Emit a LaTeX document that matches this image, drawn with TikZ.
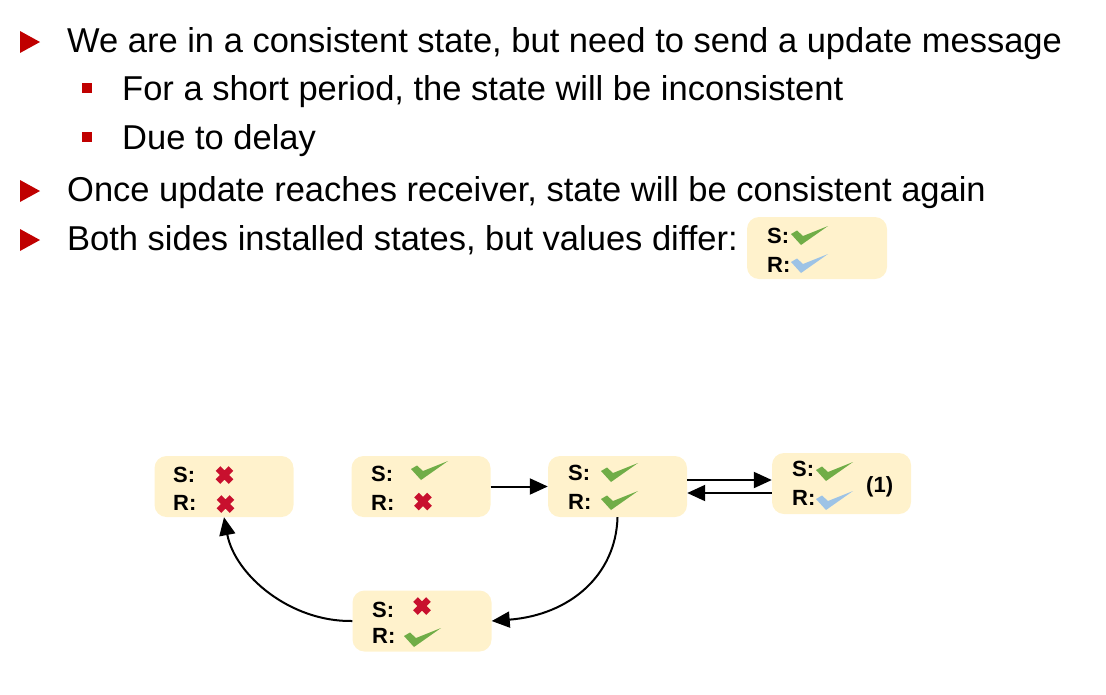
\documentclass[tikz,border=0pt]{standalone}
\usepackage{fontspec}
\setmainfont{Liberation Sans}
\usetikzlibrary{arrows.meta,calc}
\definecolor{boxfill}{HTML}{FFF2CC}
\definecolor{ckgreen}{HTML}{70AD47}
\definecolor{ckblue}{HTML}{9DC3E6}
\definecolor{xred}{HTML}{C8102E}
\definecolor{bulred}{HTML}{C00000}
\newcommand\mycheck[3]{\begin{scope}[shift={(#1,#2)}]\fill[#3] (0,8)--(6,4.5)--(12,10)--(37,0)--(10,19)--cycle;\end{scope}}
\newcommand\mycross[2]{\begin{scope}[shift={(#1,#2)}]\draw[xred,line width=6.5pt] (-6.5,-6.5)--(6.5,6.5) (6.5,-6.5)--(-6.5,6.5);\end{scope}}
\tikzset{
  statebox/.style={draw=none,fill=boxfill,rounded corners=12pt,minimum width=139pt,minimum height=61pt,inner sep=0pt},
  lbl/.style={anchor=base west,inner sep=0pt,font=\fontsize{22}{24}\selectfont\bfseries},
  bodytext/.style={anchor=base west,inner sep=0pt,font=\fontsize{34.5}{40}\selectfont},
  arr/.style={line width=2pt,-{Triangle[length=18pt,width=16pt]}},
}
\begin{document}
\begin{tikzpicture}[x=1pt,y=-1pt]
\useasboundingbox (0,0) rectangle (1106,694);
% bullets
\fill[bulred] (20,31)--(20,53)--(40,42)--cycle;
\fill[bulred] (82,83) rectangle (92,93);
\fill[bulred] (82,132) rectangle (92,142);
\fill[bulred] (20,180)--(20,202)--(40,191)--cycle;
\fill[bulred] (20,229)--(20,251)--(40,240)--cycle;
\node[bodytext] (t1) at (67,52) {We are in a consistent state, but need to send a update message};
\node[bodytext] (t2) at (122,100) {For a short period, the state will be inconsistent};
\node[bodytext] (t3) at (122,149) {Due to delay};
\node[bodytext] (t4) at (67,201) {Once update reaches receiver, state will be consistent again};
\node[bodytext] (t5) at (67,250) {Both sides installed states, but values differ:};
% legend
\node[statebox,minimum width=140pt,minimum height=62pt] (L) at (817,248) {};
\node[lbl] (Ls) at (767,243) {S:};
\node[lbl] (Lr) at (767,272) {R:};
\mycheck{791}{226}{ckgreen}
\mycheck{791}{254}{ckblue}
% state boxes
\node[statebox] (A) at (224,486.5) {};
\node[statebox] (B) at (421,486.5) {};
\node[statebox] (C) at (617.5,486.5) {};
\node[statebox] (D) at (841.5,483.5) {};
\node[statebox] (E) at (422,621) {};
% A
\node[lbl] (As) at (173,482) {S:};
\node[lbl] (Ar) at (173,510) {R:};
\mycross{224.5}{475}
\mycross{225.5}{504}
% B
\node[lbl] (Bs) at (371,481) {S:};
\node[lbl] (Br) at (371,510) {R:};
\mycheck{411}{461}{ckgreen}
\mycross{423}{501.5}
% C
\node[lbl] (Cs) at (568,480) {S:};
\node[lbl] (Cr) at (568,509) {R:};
\mycheck{601}{463}{ckgreen}
\mycheck{601}{491}{ckgreen}
% D
\node[lbl] (Ds) at (792,476) {S:};
\node[lbl] (Dr) at (792,505) {R:};
\mycheck{816}{462}{ckgreen}
\mycheck{816}{491}{ckblue}
\node[lbl,font=\fontsize{22}{24}\selectfont\bfseries] (Dn) at (866,492.5) {(1)};
% E
\node[lbl] (Es) at (372,617) {S:};
\node[lbl] (Er) at (372,643) {R:};
\mycross{422}{606}
\mycheck{404}{628}{ckgreen}
% connectors
\draw[arr] (B.east) -- (C.west);
\draw[arr] ([yshift=6.5pt]C.east) -- ([yshift=6.5pt]C.east -| D.west);
\draw[arr] ([yshift=-6.5pt]C.east -| D.west) -- ([yshift=-6.5pt]C.east);
\draw[arr] (C.south) .. controls (616,575) and (570,615) .. (E.east);
\draw[arr] (E.west) .. controls (290,622) and (235,575) .. (A.south);
\end{tikzpicture}
\end{document}
